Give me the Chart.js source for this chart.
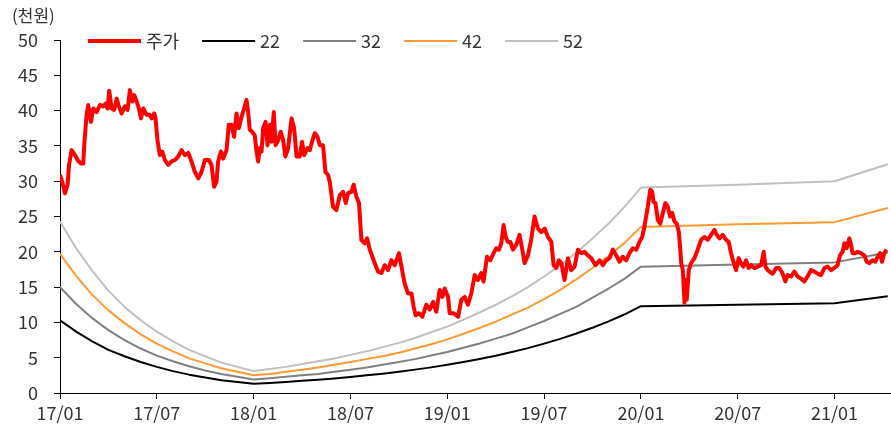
<!DOCTYPE html>
<html>
<head>
<meta charset="utf-8">
<script src="https://cdn.jsdelivr.net/npm/chart.js@4/dist/chart.umd.min.js"></script>
<style>
  body { margin: 0; background: #fff; }
  #wrap { width: 891px; height: 430px; }
</style>
</head>
<body>
<div id="wrap"><canvas id="myChart" width="891" height="430"></canvas></div>
<script>
// x values are months counted from 2017/01
const tickMonths = [0, 6, 12, 18, 24, 30, 36, 42, 48];
const tickLabels = ['17/01', '17/07', '18/01', '18/07', '19/01', '19/07', '20/01', '20/07', '21/01'];

const seriesLabels = ['주가', '22', '32', '42', '52'];
const seriesColors = ['#ff0000', '#000000', '#808080', '#ff9933', '#c0c0c0'];

// share price (천원)
const priceMonths = [
  0, 0.14, 0.31, 0.47, 0.56, 0.72, 0.93, 1.09, 1.3, 1.44, 1.51, 1.65, 1.75, 1.92, 2.06, 2.27, 2.48, 2.68, 2.83, 2.95,
  3.05, 3.2, 3.36, 3.51, 3.65, 3.82, 4.02, 4.19, 4.33, 4.48, 4.6, 4.75, 4.89, 5.02, 5.16, 5.37, 5.57, 5.68, 5.84, 5.92,
  6.05, 6.19, 6.34, 6.5, 6.71, 6.92, 7.12, 7.33, 7.53, 7.74, 7.95, 8.15, 8.36, 8.57, 8.77, 8.98, 9.23, 9.39, 9.55, 9.7,
  9.8, 9.97, 10.11, 10.32, 10.46, 10.63, 10.79, 10.94, 11.08, 11.25, 11.41, 11.56, 11.66, 11.76, 11.91, 12.07, 12.18, 12.28, 12.38, 12.49,
  12.59, 12.74, 12.86, 13.0, 13.11, 13.25, 13.36, 13.52, 13.68, 13.83, 13.97, 14.14, 14.35, 14.51, 14.66, 14.86, 15.0, 15.13, 15.34, 15.48,
  15.62, 15.79, 15.96, 16.1, 16.3, 16.45, 16.61, 16.72, 16.92, 17.13, 17.34, 17.54, 17.71, 17.85, 18.06, 18.2, 18.37, 18.53, 18.68, 18.89,
  19.03, 19.2, 19.36, 19.5, 19.71, 19.92, 20.12, 20.33, 20.54, 20.74, 21.01, 21.16, 21.36, 21.57, 21.78, 21.92, 22.04, 22.25, 22.46, 22.7,
  22.91, 23.12, 23.32, 23.53, 23.7, 23.84, 24.05, 24.15, 24.4, 24.67, 24.87, 25.08, 25.28, 25.49, 25.7, 25.9, 26.11, 26.25, 26.46, 26.67,
  26.87, 27.04, 27.2, 27.35, 27.49, 27.62, 27.76, 27.91, 28.07, 28.28, 28.48, 28.65, 28.79, 29.0, 29.2, 29.41, 29.62, 29.83, 30.03, 30.24,
  30.45, 30.59, 30.75, 30.92, 31.07, 31.27, 31.48, 31.68, 31.89, 32.1, 32.3, 32.51, 32.71, 32.92, 33.19, 33.44, 33.64, 33.85, 34.06, 34.26,
  34.47, 34.67, 34.88, 35.09, 35.29, 35.5, 35.71, 35.91, 36.08, 36.22, 36.43, 36.58, 36.7, 36.78, 36.9, 37.05, 37.2, 37.36, 37.52, 37.67,
  37.81, 37.94, 38.08, 38.22, 38.35, 38.43, 38.5, 38.6, 38.7, 38.76, 38.84, 38.97, 39.11, 39.32, 39.52, 39.73, 39.94, 40.14, 40.35, 40.56,
  40.7, 40.87, 41.07, 41.28, 41.44, 41.59, 41.73, 41.9, 42.06, 42.21, 42.35, 42.52, 42.68, 42.83, 43.03, 43.24, 43.45, 43.61, 43.72, 43.86,
  43.96, 44.17, 44.38, 44.58, 44.79, 44.95, 45.1, 45.3, 45.51, 45.72, 45.92, 46.13, 46.33, 46.54, 46.75, 46.95, 47.16, 47.37, 47.57, 47.78,
  47.99, 48.19, 48.34, 48.5, 48.61, 48.75, 48.92, 49.02, 49.12, 49.29, 49.43, 49.64, 49.85, 49.99, 50.15, 50.36, 50.53, 50.67, 50.82, 50.94,
  51.08, 51.22
];
const priceValues = [
  30.9, 29.9, 28.3, 29.5, 32.3, 34.4, 33.7, 33.0, 32.5, 32.5, 35.4, 39.4, 40.8, 38.4, 40.3, 39.8, 40.8, 40.6, 41.0, 40.3,
  42.8, 40.3, 40.1, 41.7, 40.6, 39.6, 40.6, 40.1, 42.9, 41.3, 42.2, 41.3, 40.3, 38.9, 40.3, 39.4, 39.4, 38.9, 39.6, 38.9,
  35.6, 33.7, 34.2, 33.0, 32.3, 32.8, 33.0, 33.5, 34.4, 33.7, 34.0, 32.8, 31.3, 30.4, 31.3, 33.0, 33.0, 32.3, 29.2, 29.9,
  32.8, 34.2, 33.2, 34.4, 38.0, 38.0, 36.3, 39.6, 37.5, 39.1, 40.3, 41.5, 39.8, 37.3, 37.0, 36.5, 34.2, 32.8, 34.7, 34.2,
  37.5, 38.4, 35.1, 38.0, 35.6, 39.8, 35.1, 35.8, 37.0, 35.8, 33.5, 34.7, 38.9, 37.5, 33.5, 33.5, 35.6, 33.7, 34.7, 34.4,
  35.6, 36.8, 36.3, 35.1, 35.1, 31.3, 30.9, 29.9, 26.4, 25.9, 28.0, 28.5, 26.9, 28.3, 28.5, 29.5, 27.8, 26.9, 21.7, 21.2,
  21.9, 20.3, 19.3, 18.4, 17.2, 17.0, 18.1, 17.4, 18.8, 18.1, 19.8, 17.9, 15.5, 14.1, 14.1, 12.2, 11.0, 11.3, 10.8, 12.5,
  11.8, 12.9, 11.5, 14.6, 13.6, 14.8, 13.6, 11.3, 11.3, 10.8, 13.2, 13.6, 12.5, 14.1, 16.7, 16.0, 17.0, 15.8, 19.3, 18.8,
  19.8, 20.5, 20.3, 21.2, 23.8, 22.1, 21.4, 21.4, 20.3, 21.0, 22.4, 20.3, 18.4, 19.5, 21.7, 25.0, 23.3, 22.8, 23.3, 22.1,
  21.4, 18.1, 17.7, 18.8, 18.4, 16.0, 19.1, 17.4, 17.9, 20.3, 19.8, 20.0, 19.5, 19.1, 18.1, 18.8, 18.1, 18.8, 19.1, 20.3,
  19.5, 18.6, 19.3, 18.8, 19.8, 20.5, 20.3, 21.4, 22.1, 23.6, 26.4, 28.8, 28.5, 27.1, 26.9, 24.5, 24.0, 25.5, 26.9, 26.4,
  25.0, 25.5, 24.3, 24.0, 22.8, 20.7, 18.4, 17.4, 12.8, 16.0, 13.2, 17.4, 18.4, 19.1, 20.3, 21.7, 22.1, 21.7, 22.4, 23.1,
  22.4, 21.9, 22.4, 21.7, 21.4, 19.8, 18.6, 17.4, 19.1, 18.4, 17.9, 18.8, 17.7, 18.1, 17.7, 17.9, 18.1, 20.0, 17.9, 17.4,
  17.2, 16.9, 17.7, 17.7, 16.9, 15.8, 16.7, 16.5, 17.2, 16.5, 16.2, 15.8, 16.5, 17.4, 17.2, 16.9, 16.7, 17.7, 17.9, 17.4,
  17.7, 18.1, 19.5, 20.0, 21.2, 20.5, 21.9, 21.0, 19.8, 19.8, 20.0, 19.8, 19.5, 18.6, 18.4, 18.8, 18.6, 19.3, 19.8, 18.6,
  19.8, 20.3
];

// PER band lines (천원)
const bandMonths = [
  0, 1, 2, 3, 4, 5, 6, 7, 8, 9, 10, 11, 12, 13, 14, 15, 16, 17, 18, 19,
  20, 21, 22, 23, 24, 25, 26, 27, 28, 29, 30, 31, 32, 33, 34, 35, 36, 42, 48, 51.3
];
const band22 = [
  10.3, 8.7, 7.3, 6.1, 5.2, 4.4, 3.7, 3.1, 2.6, 2.2, 1.8, 1.55, 1.3, 1.43, 1.57, 1.72, 1.89, 2.07, 2.28, 2.5,
  2.74, 3.01, 3.31, 3.63, 3.99, 4.38, 4.81, 5.28, 5.8, 6.36, 6.99, 7.67, 8.42, 9.25, 10.15, 11.15, 12.3, 12.5, 12.7, 13.7
];
const band32 = [
  15.0, 12.6, 10.6, 8.9, 7.5, 6.3, 5.3, 4.5, 3.8, 3.2, 2.7, 2.3, 1.9, 2.1, 2.3, 2.5, 2.7, 3.0, 3.3, 3.6,
  4.0, 4.4, 4.8, 5.3, 5.8, 6.4, 7.0, 7.7, 8.4, 9.3, 10.2, 11.2, 12.2, 13.5, 14.8, 16.2, 17.9, 18.2, 18.5, 19.9
];
const band42 = [
  19.7, 16.6, 13.9, 11.7, 9.9, 8.3, 7.0, 5.9, 4.9, 4.2, 3.5, 3.0, 2.5, 2.7, 3.0, 3.3, 3.6, 4.0, 4.4, 4.8,
  5.2, 5.7, 6.3, 6.9, 7.6, 8.4, 9.2, 10.1, 11.1, 12.1, 13.3, 14.6, 16.1, 17.7, 19.4, 21.3, 23.5, 23.9, 24.2, 26.2
];
const band52 = [
  24.3, 20.5, 17.3, 14.5, 12.2, 10.3, 8.7, 7.3, 6.1, 5.2, 4.3, 3.7, 3.1, 3.4, 3.7, 4.1, 4.5, 4.9, 5.4, 5.9,
  6.5, 7.1, 7.8, 8.6, 9.4, 10.4, 11.4, 12.5, 13.7, 15.0, 16.5, 18.1, 19.9, 21.9, 24.0, 26.4, 29.1, 29.5, 30.0, 32.4
];

const FONT = '"Noto Sans CJK KR", "Noto Sans", sans-serif';
const TEXT_COLOR = '#333333';

const toPoints = (xs, ys) => xs.map((x, i) => ({ x, y: ys[i] }));

const seriesData = [
  toPoints(priceMonths, priceValues),
  toPoints(bandMonths, band22),
  toPoints(bandMonths, band32),
  toPoints(bandMonths, band42),
  toPoints(bandMonths, band52),
];

const datasets = seriesData.map((data, i) => ({
  label: seriesLabels[i],
  data,
  borderColor: seriesColors[i],
  backgroundColor: seriesColors[i],
  borderWidth: i === 0 ? 4 : 2,
  pointRadius: 0,
  tension: 0,
  borderJoinStyle: 'round',
}));

// legend + unit label drawn in one row on top, like the original
const topTexts = {
  id: 'topTexts',
  afterDraw(chart) {
    const { ctx } = chart;
    ctx.save();
    ctx.font = '17px ' + FONT;
    ctx.fillStyle = TEXT_COLOR;
    ctx.textBaseline = 'middle';
    ctx.textAlign = 'left';
    ctx.fillText('(천원)', 12, 16);

    ctx.font = '18px ' + FONT;
    let x = 88;
    const y = 41;
    chart.data.datasets.forEach((ds) => {
      ctx.strokeStyle = ds.borderColor;
      ctx.lineWidth = ds.borderWidth;
      ctx.beginPath();
      ctx.moveTo(x, y);
      ctx.lineTo(x + 53, y);
      ctx.stroke();
      ctx.fillStyle = TEXT_COLOR;
      ctx.fillText(ds.label, x + 58, y);
      x += 53 + 6 + ctx.measureText(ds.label).width + 22;
    });
    ctx.restore();
  },
};

const myChartRef = document.getElementById('myChart').getContext('2d');
new Chart(myChartRef, {
  type: 'line',
  data: { datasets },
  plugins: [topTexts],
  options: {
    animation: false,
    responsive: false,
    layout: { padding: { top: 40, left: 0, right: 0, bottom: 0 } },
    plugins: {
      legend: { display: false },
      tooltip: { enabled: false },
    },
    scales: {
      x: {
        type: 'linear',
        min: 0,
        max: 51.5,
        afterBuildTicks: (scale) => {
          scale.ticks = tickMonths.map((v) => ({ value: v }));
        },
        afterFit: (scale) => {
          scale.height = 37;
        },
        ticks: {
          autoSkip: false,
          maxRotation: 0,
          padding: 3,
          color: TEXT_COLOR,
          font: { family: FONT, size: 18 },
          callback: (value) => tickLabels[tickMonths.indexOf(value)],
        },
        grid: { drawOnChartArea: false, drawTicks: true, tickLength: 6, color: '#000' },
        border: { display: true, color: '#000', width: 1 },
      },
      y: {
        min: 0,
        max: 50,
        afterFit: (scale) => {
          scale.width = 60;
        },
        ticks: {
          stepSize: 5,
          padding: 16,
          color: TEXT_COLOR,
          font: { family: FONT, size: 18 },
        },
        grid: { drawOnChartArea: false, drawTicks: true, tickLength: 6, color: '#000' },
        border: { display: true, color: '#000', width: 1 },
      },
    },
  },
});
</script>
</body>
</html>
